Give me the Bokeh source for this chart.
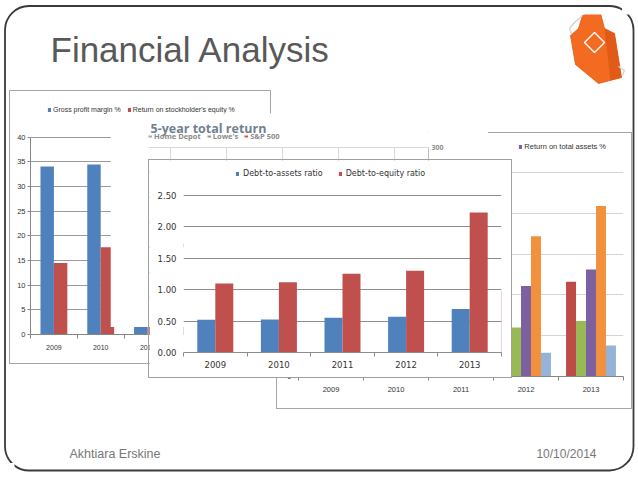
from bokeh.plotting import figure
from bokeh.models import (Range1d, FixedTicker, Legend, LegendItem, Label,
                          BoxAnnotation, Grid, NumeralTickFormatter, Plot)
from bokeh.layouts import column
from bokeh.embed import file_html
from bokeh.resources import INLINE
from bokeh.core.properties import value

# ------------------------------------------------------------------ data
slide_title = "Financial Analysis"
footer_author = "Akhtiara Erskine"
footer_date = "10/10/2014"

years = ["2009", "2010", "2011", "2012", "2013"]

# left (back) chart
gpm_label = "Gross profit margin %"
roe_label = "Return on stockholder's equity %"
gross_profit_margin = [34.1, 34.5, 34.6, 34.6, 34.8]
return_on_equity = [14.5, 17.7, 21.0, 25.4, 29.5]
left_yticks = [0, 5, 10, 15, 20, 25, 30, 35, 40]

# middle (back) chart
mid_title = "5-year total return"
mid_series = ["Home Depot", "Lowe's", "S&P 500"]
mid_years = [2009, 2010, 2011, 2012, 2013]
home_depot_return = [100, 128, 142, 196, 240]
lowes_return = [100, 112, 98, 150, 210]
sp500_return = [100, 115, 118, 137, 181]
mid_yticks = [0, 50, 100, 150, 200, 250, 300]
mid_ylabels = [300]

# right (back) chart
roa_label = "Return on total assets %"
right_red = [9.6, 10.4, 10.9, 10.5, 11.6]
right_green = [4.6, 5.1, 5.5, 6.0, 6.8]
return_on_assets = [7.2, 8.6, 9.8, 11.1, 13.1]
right_orange = [12.4, 13.8, 15.2, 17.2, 20.9]
right_lightblue = [2.0, 2.3, 2.6, 2.9, 3.8]
right_yticks = [0, 5, 10, 15, 20, 25]

# front chart
dta_label = "Debt-to-assets ratio"
dte_label = "Debt-to-equity ratio"
debt_to_assets = [0.52, 0.527, 0.553, 0.569, 0.691]
debt_to_equity = [1.101, 1.117, 1.255, 1.303, 2.229]
front_yticks = [0.0, 0.5, 1.0, 1.5, 2.0, 2.5]

# ------------------------------------------------------------------ style
BLUE, RED = "#4F81BD", "#C0504D"
R_RED, R_GREEN, R_PURPLE, R_ORANGE, R_LBLUE = "#BE4B48", "#98B954", "#7D60A0", "#F2913D", "#95B3D7"
NARROW = "Liberation Sans"
WIDE = "DejaVu Sans"

EXTRA = {"frame_align": False} if "frame_align" in Plot.properties() else {}
CW, CH = 622, 463   # container size (window minus the page margin)


def make_chart(panel, plot, xr, yr, x_axis_location="below", y_axis_location="left"):
    l, t, r, b = panel
    pl, pt, pr, pb = plot
    f = figure(width=round(r - l), height=round(b - t),
               x_range=xr, y_range=yr,
               x_axis_location=x_axis_location, y_axis_location=y_axis_location,
               output_backend="svg", toolbar_location=None,
               min_border_left=round(pl - l), min_border_right=round(r - pr),
               min_border_top=round(pt - t), min_border_bottom=round(b - pb),
               outline_line_color=None, background_fill_color="white",
               border_fill_color="white", **EXTRA)
    return f


def place(f, x, y, z, border=None):
    # absolute placement in page pixels
    st = {"position": "absolute", "left": f"{round(x)}px", "top": f"{round(y)}px",
          "z-index": str(z)}
    if border:
        st["outline"] = f"1px solid {border}"
    f.styles = st


def cat_axis(ax, labels, color, font, size, standoff, label_color):
    n = len(labels)
    ax.ticker = FixedTicker(ticks=[i + 0.5 for i in range(n)], minor_ticks=list(range(n + 1)))
    ax.major_label_overrides = {i + 0.5: lab for i, lab in enumerate(labels)}
    ax.axis_line_color = color
    ax.major_tick_line_color = None
    ax.major_tick_in = 0
    ax.major_tick_out = 0
    ax.minor_tick_line_color = color
    ax.minor_tick_in = 0
    ax.minor_tick_out = 4
    ax.major_label_text_font = font
    ax.major_label_text_font_size = size
    ax.major_label_text_color = label_color
    ax.major_label_standoff = standoff


def val_axis(ax, ticks, font, size, standoff, label_color, line_color=None, tick_out=0, bounds=None):
    ax.ticker = FixedTicker(ticks=ticks)
    ax.bounds = bounds if bounds else (ticks[0], ticks[-1])
    ax.axis_line_color = line_color
    ax.major_tick_line_color = line_color
    ax.major_tick_in = 0
    ax.major_tick_out = tick_out
    ax.minor_tick_line_color = None
    ax.major_label_text_font = font
    ax.major_label_text_font_size = size
    ax.major_label_text_color = label_color
    ax.major_label_standoff = standoff


def small_legend(items, loc, font, size, color, spacing, standoff=2, gw=4, gh=5, style="normal"):
    return Legend(items=items, orientation="horizontal", location=loc,
                  glyph_width=gw, glyph_height=gh, label_standoff=standoff,
                  spacing=spacing, padding=0, margin=0, label_height=gh,
                  border_line_color=None, background_fill_alpha=0,
                  label_text_font=font, label_text_font_size=size,
                  label_text_color=color, label_text_font_style=style)


def slide_layer(ox, oy, fill):
    # a window-coordinate layer of the slide, shifted by (ox, oy)
    f = figure(width=CW, height=CH, x_range=Range1d(ox, ox + CW), y_range=Range1d(-(oy + CH), -oy),
               output_backend="svg", toolbar_location=None,
               x_axis_location=None, y_axis_location=None, min_border=0,
               min_border_left=0, min_border_right=0, min_border_top=0, min_border_bottom=0,
               outline_line_color=None, background_fill_color=fill, border_fill_color=fill,
               **EXTRA)
    f.grid.visible = False
    f.add_layout(BoxAnnotation(left=4.5, right=633, top=-5.5, bottom=-470, border_radius=24,
                               fill_alpha=0, line_color="#3a3a3a", line_alpha=1.0,
                               line_width=1.8, line_dash="solid"))
    return f


n = len(years)
centers = [i + 0.5 for i in range(n)]

# ------------------------------------------------------------------ slide (two layers)
slide = slide_layer(0, 0, "white")
slide.text(x=[50], y=[-49], text=[slide_title], text_font=value("Liberation Sans"),
           text_font_size="35px", text_color="#595959", text_baseline="middle")
slide.text(x=[69], y=[-453], text=[footer_author], text_font=value("Liberation Sans"),
           text_font_size="12.5px", text_color="#777777", text_baseline="middle")
slide.text(x=[596], y=[-453], text=[footer_date], text_font=value("Liberation Sans"),
           text_font_size="12px", text_color="#777777", text_baseline="middle", text_align="right")

slide2 = slide_layer(14, 14, None)
apron_x = [582, 599, 604, 614, 621, 598, 575, 570, 578]
apron_y = [-15, -9, -28, -33, -77, -83, -64, -35, -28]
slide2.patch(apron_x, apron_y, fill_color="#F26B21", line_color="#E05A15", line_width=0.8)
slide2.patch([604, 614, 621, 610], [-28, -33, -77, -80], fill_color="#E25A18", line_color=None)
slide2.patch([594, 604, 594, 584], [-32, -42, -52, -42], fill_color=None, line_color="white", line_width=1.4)
slide2.line([582, 574, 569, 571], [-15, -22, -28, -34], line_color="#d0d0d0", line_width=1.2)
slide2.line([618, 624, 622], [-66, -70, -75], line_color="#d0d0d0", line_width=1.2)

# ------------------------------------------------------------------ left chart
LP = (10.5, 91, 271, 363)
LA = (30, 96, 265, 334)
L_UNIT = 4.93
left = make_chart(LP, LA, Range1d(0, n), Range1d(0, (LA[3] - LA[1]) / L_UNIT))
bw = 0.287
r_gpm = left.vbar(x=[c - bw / 2 for c in centers], top=gross_profit_margin, width=bw,
                  fill_color=BLUE, line_color=None)
r_roe = left.vbar(x=[c + bw / 2 for c in centers], top=return_on_equity, width=bw,
                  fill_color=RED, line_color=None)
cat_axis(left.xaxis[0], years, "#868686", NARROW, "7px", 6, "#333333")
val_axis(left.yaxis[0], left_yticks, NARROW, "7.5px", 2, "#333333", line_color="#868686", tick_out=3)
left.xgrid.visible = False
left.ygrid.ticker = FixedTicker(ticks=left_yticks)
left.ygrid.grid_line_color = "#9a9a9a"
left.add_layout(small_legend([LegendItem(label=gpm_label, renderers=[r_gpm]),
                              LegendItem(label=roe_label, renderers=[r_roe])],
                             (47 - LA[0], LA[3] - 113), NARROW, "7px", "#333333", 6))

# ------------------------------------------------------------------ right chart
RP = (277, 133, 631, 408)
RA = (297.7, 140, 623, 376)
R_UNIT = 8.16
right = make_chart(RP, RA, Range1d(0, n), Range1d(0, (RA[3] - RA[1]) / R_UNIT))
rw = 0.1536
right_series = [(right_red, R_RED), (right_green, R_GREEN), (return_on_assets, R_PURPLE),
                (right_orange, R_ORANGE), (right_lightblue, R_LBLUE)]
r_roa = None
for k, (vals, col) in enumerate(right_series):
    rr = right.vbar(x=[c + (k - 2) * rw for c in centers], top=vals, width=rw,
                    fill_color=col, line_color=None)
    if vals is return_on_assets:
        r_roa = rr
cat_axis(right.xaxis[0], years, "#868686", NARROW, "7.5px", 6, "#333333")
val_axis(right.yaxis[0], right_yticks, NARROW, "7.5px", 7, "#333333")
right.xgrid.visible = False
right.ygrid.ticker = FixedTicker(ticks=right_yticks)
right.ygrid.grid_line_color = "#d4d4d4"
right.add_layout(small_legend([LegendItem(label=roa_label, renderers=[r_roa])],
                              (518 - RA[0], RA[3] - 151), NARROW, "7.5px", "#333333", 10))

# ------------------------------------------------------------------ middle chart
MP = (110.5, 113, 489, 327)
MA = (148, 113, 429, 297)
M_PX_YEAR = 56.25
M_UNIT = 0.5
M_X2009 = 170
mx0 = mid_years[0] - (M_X2009 - MA[0]) / M_PX_YEAR
mx1 = mid_years[0] + (MA[2] - M_X2009) / M_PX_YEAR
mid = make_chart(MP, MA, Range1d(mx0, mx1), Range1d(0, (MA[3] - MA[1]) / M_UNIT),
                 x_axis_location=None, y_axis_location="right")
mid_cols = ["#a3acb8", "#8d99a8", "#e0523a"]
mid_r = []
for vals, col in zip([home_depot_return, lowes_return, sp500_return], mid_cols):
    mid_r.append(mid.line(mid_years, vals, line_color=col, line_width=2))
val_axis(mid.yaxis[0], mid_ylabels, "Open Sans", "7px", 3, "#8c8c8c", line_color="#bfbfbf",
         bounds=(mid_yticks[0], mid_yticks[-1]))
mid.yaxis[0].major_label_text_font_style = "bold"
mid.ygrid.ticker = FixedTicker(ticks=mid_yticks)
mid.ygrid.grid_line_color = "#d9d9d9"
if "cross_bounds" in Grid.properties():
    mid.xgrid.ticker = FixedTicker(ticks=mid_years)
    mid.xgrid.grid_line_color = "#d9d9d9"
    mid.xgrid.cross_bounds = (mid_yticks[0], mid_yticks[-1])
else:
    mid.xgrid.visible = False
    mid.segment(x0=mid_years, x1=mid_years, y0=[mid_yticks[0]] * len(mid_years),
                y1=[mid_yticks[-1]] * len(mid_years), line_color="#d9d9d9", line_width=1)
mid.add_layout(Label(x=mx0 + 2 / M_PX_YEAR, y=(MA[3] - 128) / M_UNIT, text=mid_title,
                     text_font="Open Sans", text_font_style="bold", text_font_size="12.5px",
                     text_color="#72808f", text_baseline="alphabetic"))
mid.add_layout(small_legend([LegendItem(label=s, renderers=[r]) for s, r in zip(mid_series, mid_r)],
                            (0, MA[3] - 141), "Open Sans", "7.5px", "#8a8a8a", 6,
                            standoff=2, gw=4, gh=8, style="bold"))

# ------------------------------------------------------------------ front chart
FP = (149, 160, 510.5, 377)
FA = (182.5, 165, 500, 351.7)
F_UNIT = 62.68
front = make_chart(FP, FA, Range1d(0, n), Range1d(0, (FA[3] - FA[1]) / F_UNIT))
fw = 0.283
r_dta = front.vbar(x=[c - fw / 2 for c in centers], top=debt_to_assets, width=fw,
                   fill_color=BLUE, line_color=None)
r_dte = front.vbar(x=[c + fw / 2 for c in centers], top=debt_to_equity, width=fw,
                   fill_color=RED, line_color=None)
cat_axis(front.xaxis[0], years, "#8c8c8c", WIDE, "8.5px", 4, "#333333")
val_axis(front.yaxis[0], front_yticks, WIDE, "8.5px", 7, "#333333")
front.yaxis[0].formatter = NumeralTickFormatter(format="0.00")
front.xgrid.visible = False
front.ygrid.ticker = FixedTicker(ticks=front_yticks)
front.ygrid.grid_line_color = "#8c8c8c"
front.add_layout(small_legend([LegendItem(label=dta_label, renderers=[r_dta]),
                               LegendItem(label=dte_label, renderers=[r_dte])],
                              (234.5 - FA[0], FA[3] - 178), WIDE, "8px", "#333333", 15,
                              standoff=4))

# ------------------------------------------------------------------ stacking
place(slide, 0, 0, 0)
place(slide2, 14, 14, 1)
place(left, LP[0], LP[1], 2, border="#a6a6a6")
place(right, RP[0], RP[1], 3, border="#a6a6a6")
place(mid, MP[0], MP[1], 4)
place(front, FP[0], FP[1], 5, border="#a0a0a0")

p = column(slide, slide2, left, right, mid, front, width=CW, height=CH, sizing_mode="fixed")

open("out.html", "w").write(file_html(p, INLINE))
